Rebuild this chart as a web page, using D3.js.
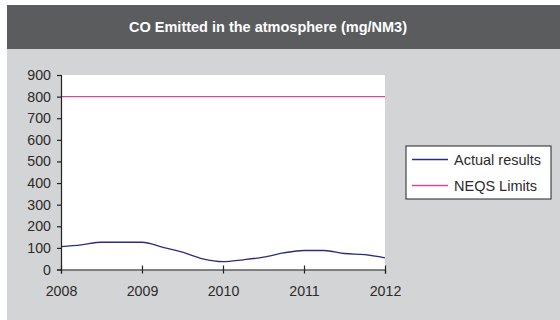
<!DOCTYPE html>
<html>
<head>
<meta charset="utf-8">
<script src="https://cdn.jsdelivr.net/npm/d3@7"></script>
<style>
  html, body { margin: 0; padding: 0; background: #ffffff; }
  svg { display: block; font-family: Arial, "Liberation Sans", sans-serif; }
</style>
</head>
<body>
<svg id="chart" width="560" height="320"></svg>
<script>
// Quarterly readings, 2008 to 2012
const periods = [2008, 2008.25, 2008.5, 2008.75, 2009, 2009.25, 2009.5, 2009.75,
                 2010, 2010.25, 2010.5, 2010.75, 2011, 2011.25, 2011.5, 2011.75, 2012];
const actualResults = [106, 114, 126, 126, 126, 104, 80, 49,
                       36, 45, 57, 77, 88, 88, 74, 69, 54];
const neqsLimits = [800, 800, 800, 800, 800, 800, 800, 800,
                    800, 800, 800, 800, 800, 800, 800, 800, 800];
const yearTicks = [2008, 2009, 2010, 2011, 2012];
const valueTicks = [0, 100, 200, 300, 400, 500, 600, 700, 800, 900];
const seriesNames = ["Actual results", "NEQS Limits"];
const seriesColors = ["#2a2d7c", "#c4509f"];
const title = "CO Emitted in the atmosphere (mg/NM3)";

const svg = d3.select("#chart");

// Panel background and title band
svg.append("rect").attr("x", 7).attr("y", 5).attr("width", 553).attr("height", 315)
  .attr("fill", "#d3d4d6");
svg.append("rect").attr("x", 7).attr("y", 5).attr("width", 553).attr("height", 44)
  .attr("fill", "#5b5c5e");
svg.append("text").attr("x", 268).attr("y", 32).attr("text-anchor", "middle")
  .attr("fill", "#ffffff").attr("font-weight", "bold").attr("font-size", 14.5)
  .text(title);

const plot = { left: 61, right: 385, top: 75, bottom: 269.5 };

const x = d3.scaleLinear().domain([2008, 2012]).range([plot.left, plot.right]);
const y = d3.scaleLinear().domain([0, 900]).range([plot.bottom, plot.top]);

svg.append("rect")
  .attr("x", plot.left).attr("y", plot.top)
  .attr("width", plot.right - plot.left).attr("height", plot.bottom - plot.top)
  .attr("fill", "#ffffff");

// Series lines
const line = d3.line().x((d, i) => x(periods[i])).y(d => y(d)).curve(d3.curveMonotoneX);
[actualResults, neqsLimits].forEach((vals, k) => {
  svg.append("path").datum(vals)
    .attr("d", line)
    .attr("fill", "none")
    .attr("stroke", seriesColors[k])
    .attr("stroke-width", 1.3);
});

// Axes
const yAxis = svg.append("g")
  .attr("transform", `translate(${plot.left},0)`)
  .call(d3.axisLeft(y).tickValues(valueTicks).tickSize(4).tickPadding(6));
const xAxis = svg.append("g")
  .attr("transform", `translate(0,${plot.bottom})`)
  .call(d3.axisBottom(x).tickValues(yearTicks).tickFormat(d3.format("d"))
    .tickSize(4).tickPadding(12));
xAxis.selectAll(".tick line").attr("y1", -4);

[yAxis, xAxis].forEach(g => {
  g.select(".domain").attr("stroke", "#222").attr("stroke-width", 1.2);
  g.selectAll(".tick line").attr("stroke", "#222").attr("stroke-width", 1.2);
  g.selectAll(".tick text").attr("fill", "#2b2b2b")
    .attr("font-size", 14.2).attr("font-family", "Arial, 'Liberation Sans', sans-serif");
});

// Legend
const legend = svg.append("g");
legend.append("rect").attr("x", 406).attr("y", 146).attr("width", 145).attr("height", 53)
  .attr("fill", "#ffffff").attr("stroke", "#222").attr("stroke-width", 1);
seriesNames.forEach((name, k) => {
  const ly = 159.5 + k * 26;
  legend.append("line").attr("x1", 412).attr("x2", 448).attr("y1", ly).attr("y2", ly)
    .attr("stroke", seriesColors[k]).attr("stroke-width", 1.3);
  legend.append("text").attr("x", 454).attr("y", ly + 5)
    .attr("font-size", 14.5).attr("fill", "#2b2b2b").text(name);
});
</script>
</body>
</html>
